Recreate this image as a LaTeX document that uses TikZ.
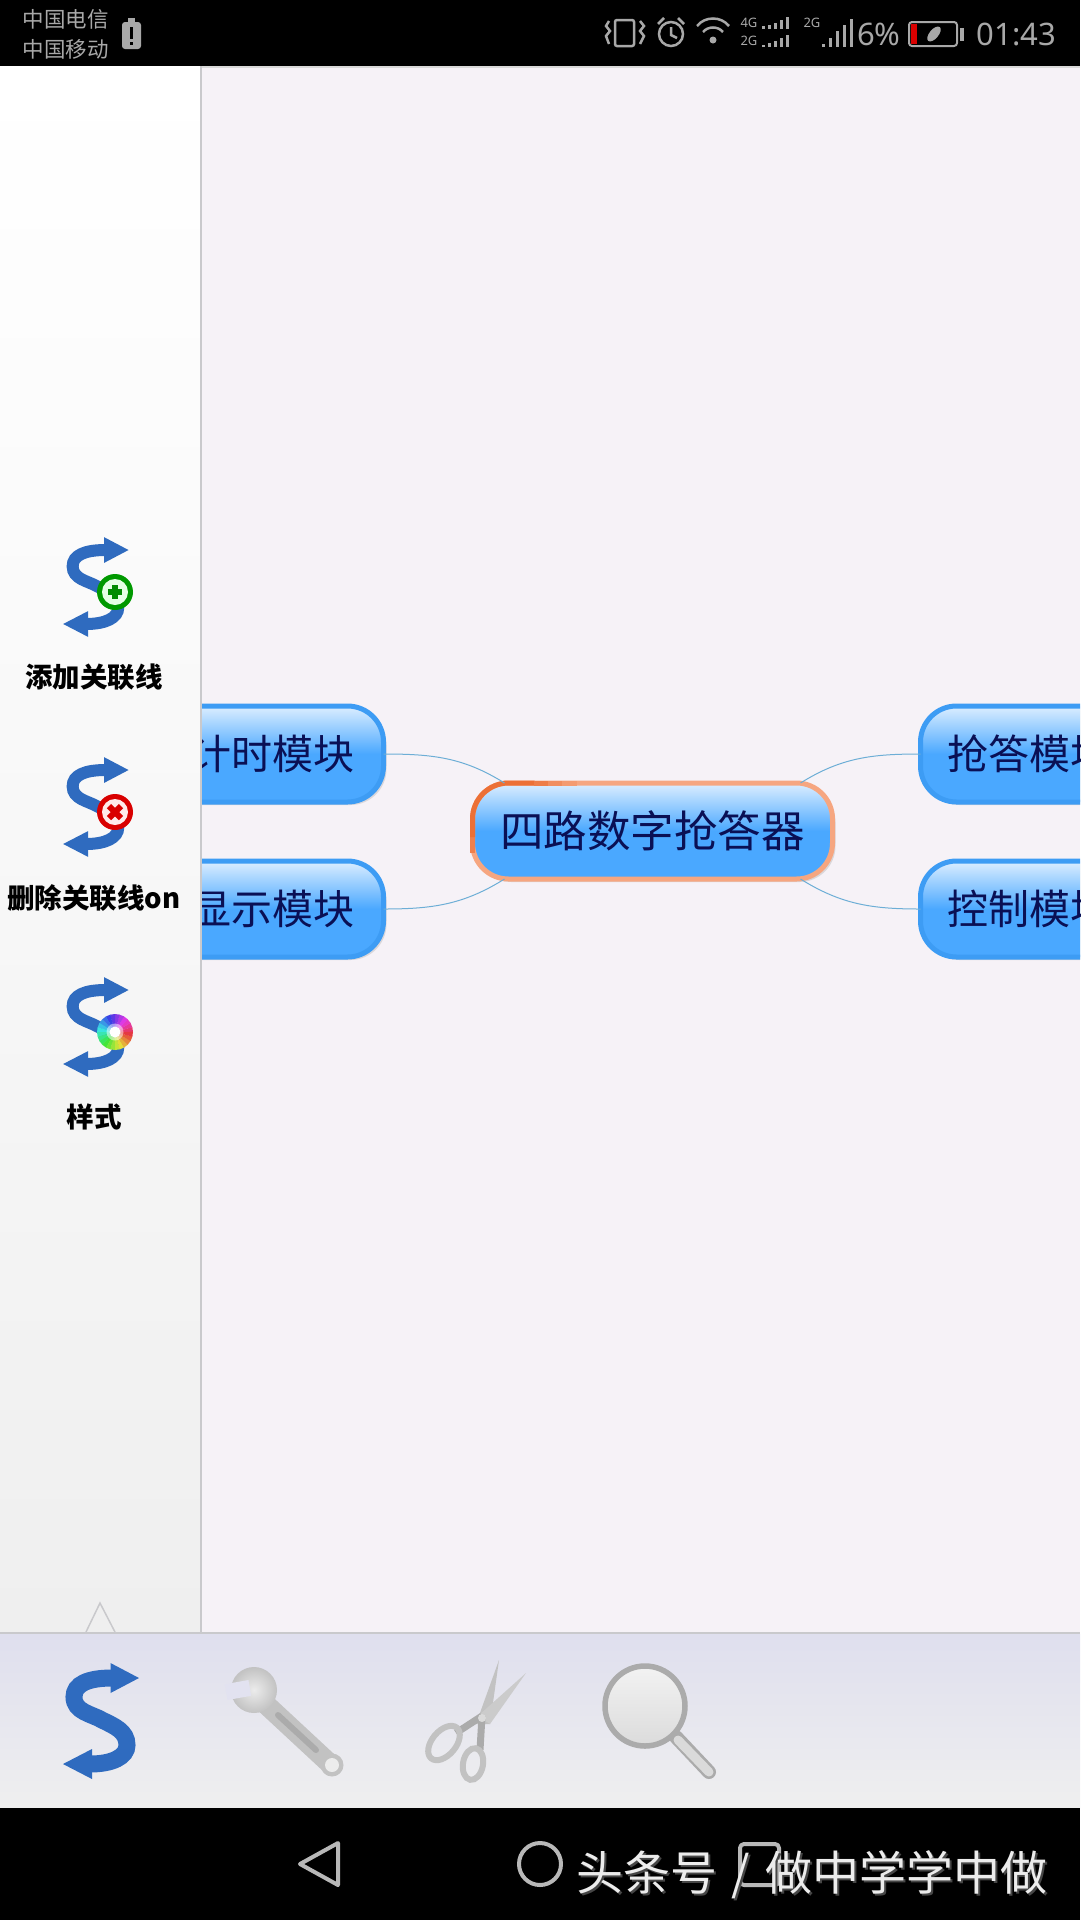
\documentclass[tikz,border=0pt]{standalone}
\usepackage{fontspec}
\setmainfont{Noto Sans CJK SC}
\newfontfamily\latinfont{Noto Sans}
\usetikzlibrary{shadows,calc}

\definecolor{canvasbg}{HTML}{F6F2F7}
\definecolor{panelline}{HTML}{C9C9CC}
\definecolor{barbg}{HTML}{DFDFEE}
\definecolor{barend}{HTML}{EFEFEF}
\definecolor{sblue}{HTML}{2F6BBF}
\definecolor{boxblue}{HTML}{4AA8FF}
\definecolor{boxedge}{HTML}{3D9CF4}
\definecolor{boxtop}{HTML}{DCEEFF}
\definecolor{boxtext}{HTML}{0A1055}
\definecolor{linkblue}{HTML}{6DAED6}
\definecolor{hubedge}{HTML}{F6A680}
\definecolor{hubhot}{HTML}{EC7036}
\definecolor{statusgrey}{HTML}{A8A8A8}
\definecolor{navgrey}{HTML}{B8B8B8}
\definecolor{toolgrey}{HTML}{C2C2C2}
\definecolor{tooldark}{HTML}{ABABAB}

\tikzset{
    blockbox/.style={rounded corners=36pt, minimum width=223pt, minimum height=96pt,
        line width=5pt, outer sep=0pt, draw=boxedge, top color=boxtop, bottom color=boxblue,
        middle color=boxblue, text=boxtext, font=\fontsize{41}{41}\selectfont,
        general shadow={shadow xshift=3pt, shadow yshift=-3pt, fill=black!35, opacity=0.35}},
    linkline/.style={draw=linkblue, line width=1pt},
    sidelabel/.style={font=\fontsize{27.5}{28}\selectfont\bfseries, text=black},
    statustext/.style={text=statusgrey, font=\fontsize{21.5}{22}\selectfont},
    statusicon/.style={draw=statusgrey, line width=2.5pt},
    statusbars/.style={draw=statusgrey, line width=3pt},
    signaltext/.style={text=statusgrey, font=\latinfont\fontsize{13}{13}\selectfont},
    navicon/.style={draw=navgrey, line width=4pt, line join=round}
}

% S shaped double arrow, centred at (#1,#2)
\newcommand{\sarrow}[4]{
    \begin{scope}[shift={(#1,#2)}, scale=#3]
        \draw[sblue, line width=#4pt]
            (12,-43) .. controls (-12,-43) and (-26,-37) .. (-26,-24)
            .. controls (-26,-9) and (-8,-7) .. (2,-1)
            .. controls (14,5) and (27,10) .. (27,24)
            .. controls (27,36) and (12,43) .. (-10,43);
        \fill[sblue] (39,-43) -- (10.5,-58) -- (10.5,-28) -- cycle;
        \fill[sblue] (-37,43) -- (-8,28) -- (-8,58) -- cycle;
    \end{scope}
}
\newcommand{\marktext}{头条号\hspace{14pt}/\hspace{16pt}做中学学中做}

\begin{document}
\begin{tikzpicture}[x=1pt,y=-1pt]
    \clip (0,0) rectangle (1080,1920);
    \fill[canvasbg] (0,66) rectangle (1080,1634);
    \draw[gray!30, line width=1.5pt] (200,67) -- (1080,67);

    % Mind map
    \node[blockbox] (timer) at (272,754) {计时模块};
    \node[blockbox] (display) at (272,909) {显示模块};
    \node[blockbox, minimum width=217pt] (answer) at (1029,754) {抢答模块};
    \node[blockbox, minimum width=217pt] (control) at (1029,909) {控制模块};
    \node[blockbox, minimum width=360pt, draw=hubedge, font=\fontsize{43.5}{44}\selectfont] (hub) at (652.5,831) {四路数字抢答器};
    \draw[hubhot!70!hubedge, line width=5pt] ([yshift=-22pt]hub.west) -- ([yshift=-4pt]hub.west);
    \draw[hubhot, line width=5pt, rounded corners=36pt] ([yshift=-6pt]hub.west) |- ([xshift=62pt]hub.north west);
    \draw[hubhot!75!hubedge, line width=5pt] ([xshift=61pt]hub.north west) -- ([xshift=76pt]hub.north west);
    \draw[hubhot!45!hubedge, line width=5pt] ([xshift=75pt]hub.north west) -- ([xshift=90pt]hub.north west);
    \draw[hubhot!20!hubedge, line width=5pt] ([xshift=89pt]hub.north west) -- ([xshift=104pt]hub.north west);

    \coordinate (hubnw) at ([xshift=32pt]hub.north west);
    \coordinate (hubne) at ([xshift=-32pt]hub.north east);
    \coordinate (hubsw) at ([xshift=32pt]hub.south west);
    \coordinate (hubse) at ([xshift=-32pt]hub.south east);
    \draw[linkline] (timer.east) to[out=0, in=148] (hubnw);
    \draw[linkline] (display.east) to[out=0, in=212] (hubsw);
    \draw[linkline] (answer.west) to[out=180, in=32] (hubne);
    \draw[linkline] (control.west) to[out=180, in=328] (hubse);

    % Side panel
    \shade[top color=white, bottom color=barend, middle color=white!55!barend] (0,66) rectangle (200,1632);
    \draw[panelline, line width=2.5pt] (201,66) -- (201,1632);

    \foreach \y in {587,807,1027} \sarrow{95}{\y}{0.86}{12};

    % Add badge
    \fill[green!60!black] (115,592) circle (18);
    \fill[green!10!white] (115,592) circle (13);
    \fill[green!55!black] (108,589) rectangle (122,595);
    \fill[green!55!black] (112,585) rectangle (118,599);

    % Remove badge
    \fill[red!85!black] (115,812) circle (18);
    \fill[red!8!white] (115,812) circle (13);
    \draw[red!85!black, line width=6pt] (109,806) -- (121,818);
    \draw[red!85!black, line width=6pt] (121,806) -- (109,818);

    % Colour badge
    \coordinate (wheel) at (115,1032);
    \foreach \a in {0,15,...,345} {
        \pgfmathsetmacro{\huev}{mod(0.95-\a/360+1,1)}
        \definecolor{wedgecol}{hsb}{\huev,0.75,0.9}
        \fill[wedgecol] (wheel) -- ($(wheel)+(\a:18pt)$) -- ($(wheel)+(\a+16:18pt)$) -- cycle;
    }
    \fill[white, opacity=0.5] (wheel) circle (8.5);
    \fill[white] (wheel) circle (5.5);

    \node[sidelabel] (addlabel) at (94,677) {添加关联线};
    \node[sidelabel] (dellabel) at (94,898) {删除关联线on};
    \node[sidelabel] (stylelabel) at (94,1117) {样式};

    \filldraw[fill=barend, draw=panelline, line width=1.5pt] (86,1632) -- (100,1603) -- (115,1632);

    % Toolbar
    \shade[top color=barbg, bottom color=barend] (0,1634) rectangle (1080,1808);
    \draw[panelline, line width=2pt] (0,1633) -- (1080,1633);
    \sarrow{100}{1721}{1}{17};

    % Wrench
    \draw[toolgrey, line width=20pt, line cap=round] (258,1697) -- (328,1762);
    \draw[tooldark, line width=6pt, line cap=round] (278,1715) -- (316,1750);
    \shade[inner color=gray!15, outer color=toolgrey] (254,1690) circle (23);
    \fill[barbg!90!white, rotate around={10:(238,1690)}] (226,1682) rectangle (250,1698);
    \fill[toolgrey] (332,1765) circle (11.5);
    \fill[gray!15] (332,1765) circle (7);

    % Scissors
    \fill[toolgrey] (476,1724) -- (499,1660) -- (490,1724) -- cycle;
    \fill[toolgrey!85!white] (478,1716) -- (526,1673) -- (490,1724) -- cycle;
    \draw[tooldark, line width=7pt] (482,1716) -- (456,1733);
    \draw[tooldark, line width=7pt] (482,1716) -- (480,1750);
    \draw[toolgrey, line width=6pt, rotate around={50:(444,1743)}] (444,1743) ellipse (20 and 12);
    \draw[toolgrey, line width=6pt, rotate around={80:(473,1764)}] (473,1764) ellipse (16 and 10);
    \fill[toolgrey!60!white] (482,1718) circle (4);

    % Magnifier
    \draw[tooldark, line width=14pt, line cap=round] (676,1737) -- (709,1772);
    \draw[toolgrey!60!white, line width=9pt, line cap=round] (678,1740) -- (709,1772);
    \shade[draw=tooldark, line width=5.5pt, top color=gray!10, bottom color=gray!28] (645,1706) circle (40);

    % Status bar
    \fill[black] (0,0) rectangle (1080,66);
    \node[statustext] (carrierone) at (66,19) {中国电信};
    \node[statustext] (carriertwo) at (66,49) {中国移动};
    \fill[statusgrey, rounded corners=3pt] (122,22) rectangle (141,49);
    \fill[statusgrey] (128,18) rectangle (135,22);
    \fill[black] (130,27) rectangle (133,39);
    \fill[black] (130,42) rectangle (133,45);

    \draw[statusicon, rounded corners=2pt] (615,20) rectangle (634,46);
    \draw[statusicon] (609,21) -- (606,26) -- (610,31) -- (606,36) -- (609,44);
    \draw[statusicon] (640,21) -- (644,26) -- (640,31) -- (644,36) -- (640,44);
    \draw[statusicon] (671,34) circle (12);
    \draw[statusicon] (671,27) -- (671,35) -- (677,38);
    \draw[statusicon] (658,24) -- (664,18);
    \draw[statusicon] (684,24) -- (678,18);
    \draw[statusicon] (697,26) .. controls (705,16) and (721,16) .. (729,26);
    \draw[statusicon] (703,32) .. controls (708,26) and (718,26) .. (723,32);
    \fill[statusgrey] (713,40) circle (3.5);

    \node[signaltext] (fourg) at (749,23) {4G};
    \node[signaltext] (twog) at (749,41) {2G};
    \node[signaltext] (twogb) at (812,23) {2G};
    \foreach \x/\t in {763/26,769/25,775/23,781/20,787/17} \draw[statusbars] (\x,29) -- (\x,\t);
    \foreach \x/\t in {763/45,769/43,775/41,781/38,787/35} \draw[statusbars] (\x,47) -- (\x,\t);
    \foreach \x/\t in {823/44,830/38,837/31,844/25,851/19} \draw[statusbars] (\x,47) -- (\x,\t);

    \node[text=statusgrey, font=\latinfont\fontsize{31}{31}\selectfont, anchor=west, inner sep=0pt] (level) at (857,34) {6\%};
    \draw[statusgrey, line width=2pt, rounded corners=3pt] (909,22) rectangle (957,46);
    \fill[statusgrey] (960,28) rectangle (964,41);
    \fill[red!85!black] (911,24) rectangle (917,44);
    \fill[statusgrey, rotate around={-40:(934,34)}] (934,34) ellipse (4.5 and 9);
    \node[text=statusgrey, font=\latinfont\fontsize{31}{31}\selectfont, anchor=east, inner sep=0pt] (clock) at (1056,34) {01:43};

    % Navigation bar
    \fill[black] (0,1808) rectangle (1080,1920);
    \draw[navicon] (300,1864) -- (338,1843) -- (338,1885) -- cycle;
    \draw[navicon] (540,1864) circle (21);
    \draw[navicon, rounded corners=4pt] (740,1844) rectangle (779,1885);

    \node[anchor=west, inner sep=0pt, text=gray!55!black, font=\fontsize{47}{47}\selectfont] (markshadow) at (578,1877) {\marktext};
    \node[anchor=west, inner sep=0pt, text=gray!15, font=\fontsize{47}{47}\selectfont] (mark) at (576,1875) {\marktext};
\end{tikzpicture}
\end{document}
